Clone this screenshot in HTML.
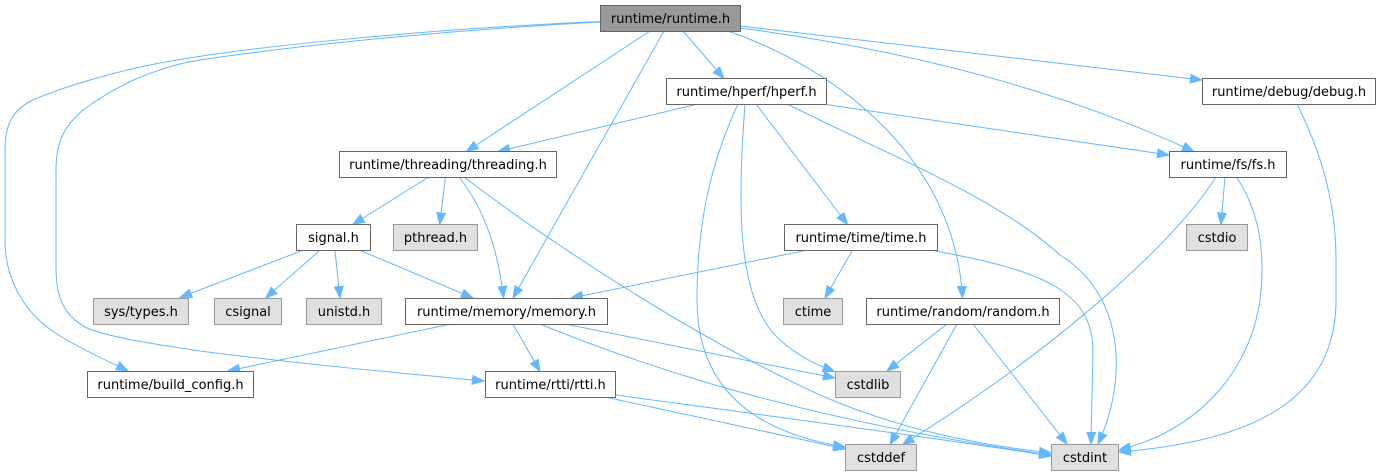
<!DOCTYPE html>
<html><head><meta charset="utf-8"><style>
html,body{margin:0;padding:0;background:#fff;}
svg{display:block;}
text{font-family:"DejaVu Sans","Liberation Sans",sans-serif;font-size:13px;fill:#000;text-anchor:middle;}
.e{fill:none;stroke:#63b8ff;stroke-width:1;marker-end:url(#a);}
.w{fill:#fff;stroke:#666;stroke-width:1;}
.g{fill:#e0e0e0;stroke:#999;stroke-width:1;}
.r{fill:#999;stroke:#666;stroke-width:1;}
</style></head><body>
<svg width="1381" height="476" viewBox="0 0 1381 476" xmlns="http://www.w3.org/2000/svg">
<defs>
<marker id="a" markerUnits="userSpaceOnUse" markerWidth="14" markerHeight="12" viewBox="0 -6 14 12" refX="12" refY="0" orient="auto">
<path d="M0,-4.5 L12,0 L0,4.5 Z" fill="#63b8ff" stroke="#63b8ff" stroke-width="1"/>
</marker>
</defs>
<!-- edges -->
<path class="e" d="M600,21.5 C450,28 250,45 150,65 C110,73 60,88 33,100 C12,110 5,125 5,150 L5,240 C5,280 25,315 60,336 C85,351 110,362 128,371"/>
<path class="e" d="M600,22 C450,30 300,45 200,60 C150,68 110,90 83,110 C62,128 56,145 56,170 L56,267 C56,295 62,315 87,328 C110,337 140,342 200,351 C300,364 400,373 484,381"/>
<path class="e" d="M650,31 L466.5,151.5"/>
<path class="e" d="M664,31 L513,298"/>
<path class="e" d="M683,31 L724,78.5"/>
<path class="e" d="M728,31 C840,70 955,160 962.5,298"/>
<path class="e" d="M740,28 Q1000,62 1194,151.5"/>
<path class="e" d="M740,26 L1202,80"/>
<path class="e" d="M698,104 L498,151.5"/>
<path class="e" d="M823,104 L1169,155"/>
<path class="e" d="M756,104 L847.5,224.5"/>
<path class="e" d="M745,104 C738,200 735,300 780,340 C800,358 820,366 834.5,371.5"/>
<path class="e" d="M738,104 C712,160 697,220 697,300 C697,400 770,435 845,447"/>
<path class="e" d="M787,104 C900,160 1000,200 1060,255 C1125,295 1128,380 1098,444"/>
<path class="e" d="M428.6,177 L352.7,224.5"/>
<path class="e" d="M445.5,177 L439.7,224.5"/>
<path class="e" d="M459,177 C485,210 498,250 503.6,298"/>
<path class="e" d="M464,177 C560,250 700,340 820,395 C900,430 980,445 1051,453"/>
<path class="e" d="M301,251 L180,297.5"/>
<path class="e" d="M319,251 L265.6,298"/>
<path class="e" d="M335,251 L340,298"/>
<path class="e" d="M361.6,251 L473,298"/>
<path class="e" d="M803,251 L571,298"/>
<path class="e" d="M852,251 L825,298"/>
<path class="e" d="M935,251 C1040,270 1092,290 1093,350 L1091,444"/>
<path class="e" d="M947,324 L887,371"/>
<path class="e" d="M957,324 L890,444.5"/>
<path class="e" d="M973,324 L1067,444"/>
<path class="e" d="M1225,177 L1221,224.5"/>
<path class="e" d="M1216,177 C1170,250 1040,360 902.5,444.5"/>
<path class="e" d="M1236.5,177 C1262,215 1265,260 1260,300 C1250,370 1200,430 1119,450"/>
<path class="e" d="M1297,104 C1320,150 1336,200 1336,260 L1336,300 C1336,390 1270,440 1119,452"/>
<path class="e" d="M451,324 L228,371"/>
<path class="e" d="M513,324 L540,371.5"/>
<path class="e" d="M565,324 L835,378"/>
<path class="e" d="M540,324 C640,365 800,420 1051,455"/>
<path class="e" d="M605,397 L845.5,449"/>
<path class="e" d="M616,395 C800,420 950,440 1051,456"/>
<!-- nodes -->
<rect class="r" x="600.5" y="5.5" width="140" height="26"/><text x="670.5" y="23">runtime/runtime.h</text>
<rect class="w" x="666.5" y="78.5" width="160" height="26"/><text x="746.5" y="96">runtime/hperf/hperf.h</text>
<rect class="w" x="1202.5" y="78.5" width="173" height="26"/><text x="1289" y="96">runtime/debug/debug.h</text>
<rect class="w" x="339.5" y="151.5" width="217" height="26"/><text x="448" y="169">runtime/threading/threading.h</text>
<rect class="w" x="1169.5" y="151.5" width="117" height="26"/><text x="1228" y="169">runtime/fs/fs.h</text>
<rect class="w" x="296.5" y="224.5" width="74" height="26"/><text x="333.5" y="242">signal.h</text>
<rect class="g" x="393.5" y="224.5" width="84" height="26"/><text x="435.5" y="242">pthread.h</text>
<rect class="w" x="784.5" y="224.5" width="153" height="26"/><text x="861" y="242">runtime/time/time.h</text>
<rect class="g" x="1186.5" y="224.5" width="61" height="26"/><text x="1217" y="242">cstdio</text>
<rect class="g" x="93.5" y="298.5" width="95" height="26"/><text x="141" y="316">sys/types.h</text>
<rect class="g" x="214.5" y="298.5" width="67" height="26"/><text x="248" y="316">csignal</text>
<rect class="g" x="306.5" y="298.5" width="75" height="26"/><text x="344" y="316">unistd.h</text>
<rect class="w" x="405.5" y="298.5" width="202" height="26"/><text x="506.5" y="316">runtime/memory/memory.h</text>
<rect class="g" x="783.5" y="298.5" width="59" height="26"/><text x="813" y="316">ctime</text>
<rect class="w" x="866.5" y="298.5" width="193" height="26"/><text x="963" y="316">runtime/random/random.h</text>
<rect class="w" x="87.5" y="371.5" width="166" height="26"/><text x="170.5" y="389">runtime/build_config.h</text>
<rect class="w" x="485.5" y="371.5" width="130" height="26"/><text x="550.5" y="389">runtime/rtti/rtti.h</text>
<rect class="g" x="835.5" y="371.5" width="65" height="26"/><text x="868" y="389">cstdlib</text>
<rect class="g" x="845.5" y="444.5" width="71" height="26"/><text x="881" y="462">cstddef</text>
<rect class="g" x="1051.5" y="444.5" width="67" height="26"/><text x="1085" y="462">cstdint</text>
</svg>
</body></html>
